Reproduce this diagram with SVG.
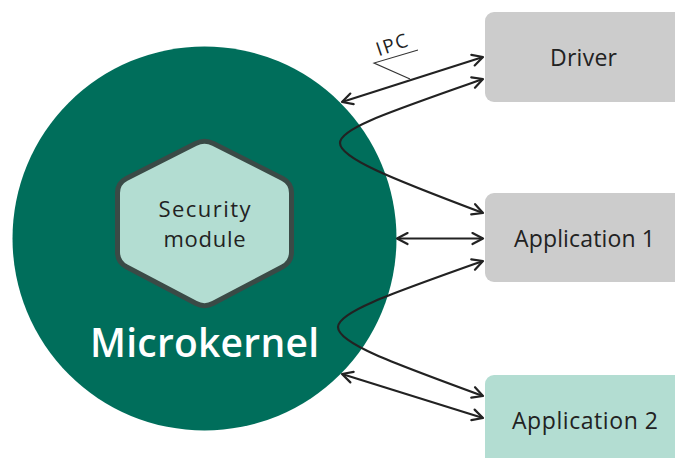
<svg xmlns="http://www.w3.org/2000/svg" width="675" height="458" viewBox="0 0 675 458">
  <style>
    .lbl { font-family: "Open Sans", "Liberation Sans", sans-serif; fill: #222222; text-anchor: middle; }
    .box-text { font-size: 23px; }
    .conn { fill: none; stroke: #222222; stroke-width: 2.2; marker-start: url(#arrow); marker-end: url(#arrow); }
  </style>
  <defs>
    <marker id="arrow" viewBox="0 0 14 14" markerUnits="userSpaceOnUse" markerWidth="14" markerHeight="14" refX="12.5" refY="7" orient="auto-start-reverse">
      <path d="M2,1.5 L12.5,7 L2,12.5" fill="none" stroke="#222222" stroke-width="2.2" stroke-linecap="round" stroke-linejoin="round"/>
    </marker>
  </defs>

  <rect width="675" height="458" fill="#ffffff"/>

  <!-- Microkernel with its security module -->
  <g id="microkernel">
    <circle cx="204.5" cy="238.5" r="192" fill="#006e5b"/>
    <text class="lbl" x="204.5" y="357" font-size="39" font-weight="600" style="fill:#ffffff" textLength="229" lengthAdjust="spacing">Microkernel</text>
  </g>

  <g id="security-module">
    <path d="M195.6,143.5 Q204.5,139 213.4,143.5 L282.6,178.5 Q291.5,183 291.5,193 L291.5,252 Q291.5,262 282.7,266.7 L213.3,303.3 Q204.5,308 195.7,303.3 L126.3,266.7 Q117.5,262 117.5,252 L117.5,193 Q117.5,183 126.4,178.5 Z" fill="#b3ddd2" stroke="#3a4a46" stroke-width="5" stroke-linejoin="round"/>
    <text class="lbl" x="204.5" y="217" font-size="22" textLength="92" lengthAdjust="spacing">Security</text>
    <text class="lbl" x="204.5" y="247" font-size="22" textLength="82" lengthAdjust="spacing">module</text>
  </g>

  <!-- Processes on the right -->
  <g id="driver">
    <rect x="485" y="12" width="210" height="90" rx="9" fill="#cccccc"/>
    <text class="lbl box-text" x="583.5" y="66" textLength="67" lengthAdjust="spacing">Driver</text>
  </g>

  <g id="application-1">
    <rect x="485" y="193" width="210" height="89" rx="9" fill="#cccccc"/>
    <text class="lbl box-text" x="584.5" y="247" textLength="141" lengthAdjust="spacing">Application 1</text>
  </g>

  <g id="application-2">
    <rect x="485" y="375" width="210" height="100" rx="9" fill="#b3ddd2"/>
    <text class="lbl box-text" x="585" y="429" textLength="146" lengthAdjust="spacing">Application 2</text>
  </g>

  <!-- IPC connectors -->
  <g id="connectors">
    <path class="conn" d="M342,102 L483,57"/>
    <path class="conn" d="M483,79 C390,112 340,128 340,143 C340,158 390,178 483,213"/>
    <path class="conn" d="M397,238.5 L483,238.5"/>
    <path class="conn" d="M483,261 C390,294 338,312 338,327 C338,343 390,362 483,396"/>
    <path class="conn" d="M342,374 L483,418"/>
  </g>

  <!-- IPC callout -->
  <g id="ipc-label">
    <polyline points="418,50 374,63 410,79" fill="none" stroke="#333333" stroke-width="1.1"/>
    <text class="lbl" x="0" y="0" font-size="19" textLength="32" lengthAdjust="spacing" transform="translate(394,51) rotate(-19)">IPC</text>
  </g>
</svg>
